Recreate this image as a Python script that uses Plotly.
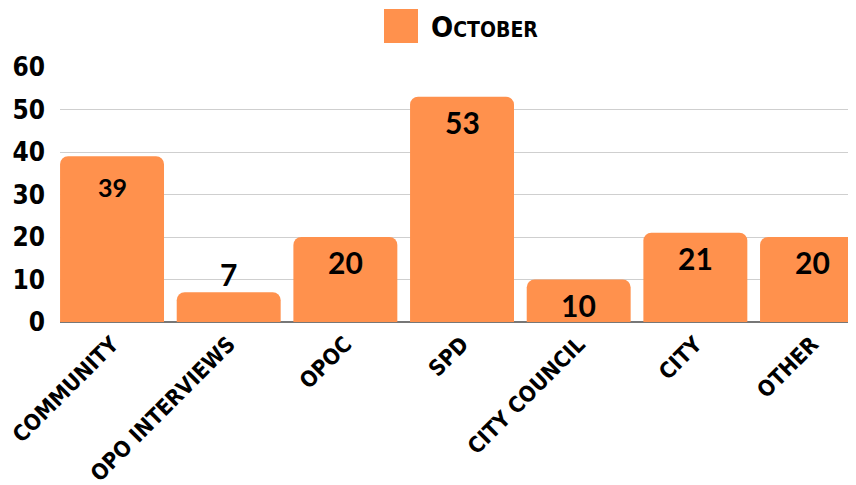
import plotly.graph_objects as go

categories = ["COMMUNITY", "OPO INTERVIEWS", "OPOC", "SPD", "CITY COUNCIL", "CITY", "OTHER"]
october = [39, 7, 20, 53, 10, 21, 20]
series_name = "October"
y_ticks = [0, 10, 20, 30, 40, 50, 60]

BAR = "#FF914D"
TICKFONT = "DejaVu Sans Condensed, DejaVu Sans"
LABELFONT = "Lato"

fig = go.Figure()
fig.add_trace(go.Bar(
    x=categories, y=october, name=series_name,
    marker=dict(color=BAR, line=dict(width=0)),
    showlegend=False, hoverinfo="skip",
))

# value labels
for c, v in zip(categories, october):
    inside = v >= 9
    size = 25 if v == 39 else 30
    fig.add_annotation(
        x=c, y=v, xref="x", yref="y",
        text=f"<b>{v}</b>", showarrow=False,
        yanchor="middle" if inside else "bottom",
        yshift=(-31 if v == 39 else -25) if inside else -2,
        font=dict(family=LABELFONT, size=size, color="#000"),
    )

# legend (large square + small-caps label)
fig.add_shape(type="rect", xref="paper", yref="paper",
              x0=(384 - 60) / 796, x1=(418 - 60) / 796,
              y0=1 + (67 - 43) / 255, y1=1 + (67 - 9) / 255,
              fillcolor=BAR, line=dict(width=0))
fig.add_annotation(
    xref="paper", yref="paper", x=(429 - 60) / 796, y=1 + (67 - 27) / 255,
    xanchor="left", yanchor="middle", showarrow=False,
    text="<b>O<span style='font-size:21px'>CTOBER</span></b>",
    font=dict(family=TICKFONT, size=29, color="#000"),
)

# the page body adds an 8px offset, so the figure is 8px smaller than the window
fig.update_layout(
    width=848, height=477,
    margin=dict(l=52, r=0, t=59, b=163),
    paper_bgcolor="white", plot_bgcolor="white",
    bargap=0.109, barcornerradius=8,
    xaxis=dict(
        range=[-0.446, 6.377], tickangle=-45, automargin=False,
        tickfont=dict(family=TICKFONT, size=22, color="#000", weight="bold"),
        showgrid=False, ticks="", showline=False, ticklabelstandoff=4,
    ),
    yaxis=dict(
        range=[0, 60], tickvals=y_ticks, automargin=False,
        tickfont=dict(family=TICKFONT, size=26, color="#000", weight="bold"),
        showgrid=True, gridcolor="#cfcfcf", gridwidth=1,
        zeroline=True, zerolinecolor="#777", zerolinewidth=1.5,
        ticks="", ticklabelstandoff=14,
    ),
)

fig.write_html("out.html")
